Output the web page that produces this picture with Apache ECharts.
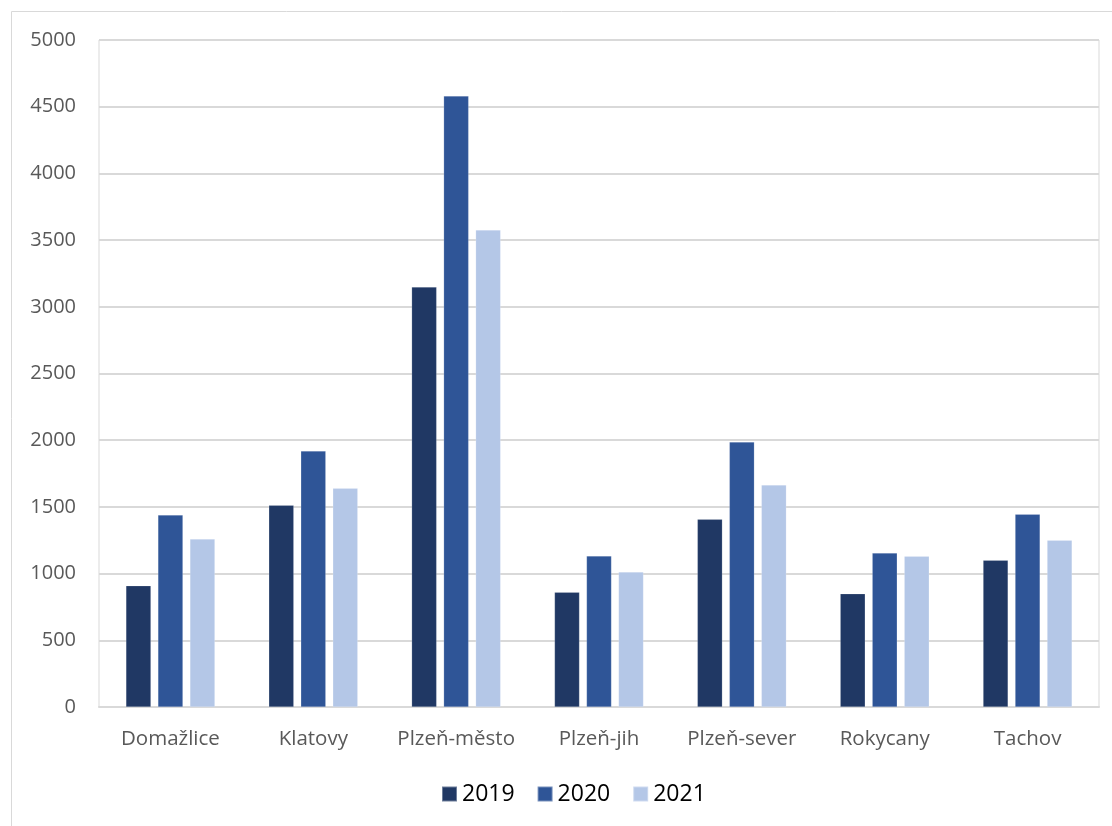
<!DOCTYPE html>
<html>
<head>
<meta charset="utf-8">
<script src="https://cdn.jsdelivr.net/npm/echarts@6/dist/echarts.min.js"></script>
<style>
html,body{margin:0;padding:0;background:#fff;}
#chart{width:1112px;height:826px;}
</style>
</head>
<body>
<div id="chart"></div>
<script>
const categories = ['Domažlice', 'Klatovy', 'Plzeň-město', 'Plzeň-jih', 'Plzeň-sever', 'Rokycany', 'Tachov'];
const values2019 = [909, 1512, 3148, 860, 1407, 849, 1100];
const values2020 = [1439, 1919, 4580, 1132, 1986, 1154, 1445];
const values2021 = [1259, 1639, 3576, 1012, 1664, 1130, 1250];
const seriesNames = ['2019', '2020', '2021'];
const seriesColors = ['#203864', '#2F5597', '#B4C7E7'];

const chart = echarts.init(document.getElementById('chart'), null, {renderer: 'canvas'});
const font = '"Open Sans", "Noto Sans", sans-serif';
const dataSets = [values2019, values2020, values2021];

chart.setOption({
  animation: false,
  textStyle: {fontFamily: font},
  graphic: [
    {type: 'line', shape: {x1: 11.5, y1: 11.5, x2: 1112, y2: 11.5}, style: {stroke: '#d9d9d9', lineWidth: 1}},
    {type: 'line', shape: {x1: 11.5, y1: 11.5, x2: 11.5, y2: 826}, style: {stroke: '#d9d9d9', lineWidth: 1}}
  ],
  grid: {left: 99, right: 13, top: 40, bottom: 119, show: true, borderColor: '#d9d9d9', borderWidth: 1},
  legend: {
    data: seriesNames,
    top: 777,
    left: 436,
    itemWidth: 15,
    itemHeight: 15,
    itemGap: 22,
    itemTextGap: 6,
    icon: 'rect',
    textStyle: {fontSize: 23, lineHeight: 24, color: '#000', fontFamily: font}
  },
  xAxis: {
    type: 'category',
    data: categories,
    axisLine: {lineStyle: {color: '#d9d9d9', width: 2}},
    axisTick: {show: false},
    axisLabel: {fontSize: 20.5, color: '#595959', margin: 22, fontFamily: font, interval: 0}
  },
  yAxis: {
    type: 'value',
    min: 0,
    max: 5000,
    interval: 500,
    axisLine: {show: false},
    axisTick: {show: false},
    splitLine: {lineStyle: {color: '#d9d9d9', width: 2}},
    axisLabel: {fontSize: 20, color: '#595959', margin: 23, fontFamily: font, formatter: v => String(v)}
  },
  series: seriesNames.map((n, i) => ({
    name: n,
    type: 'bar',
    data: dataSets[i],
    barWidth: 25,
    barGap: '28%',
    itemStyle: {color: seriesColors[i], borderColor: 'rgba(255,255,255,0.35)', borderWidth: 0.5}
  }))
});
</script>
</body>
</html>
